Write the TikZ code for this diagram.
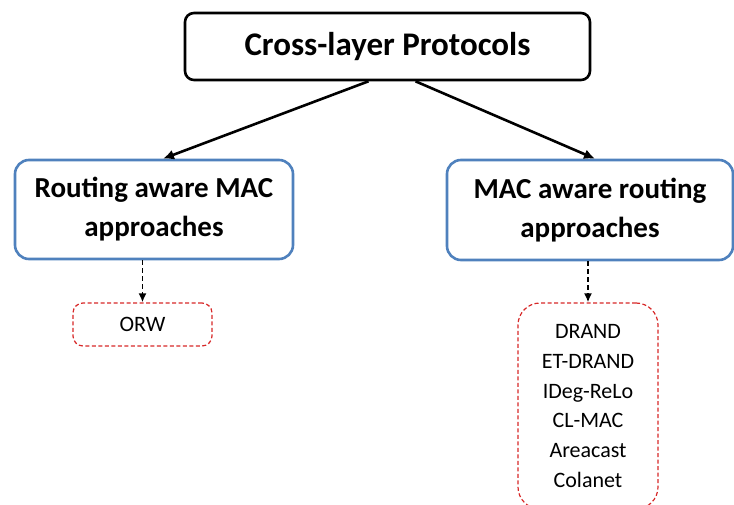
\documentclass[tikz,border=0pt]{standalone}
\usepackage{fontspec}
\setmainfont{Carlito}
\usetikzlibrary{arrows.meta,scopes}
\definecolor{boxblue}{RGB}{79,129,189}
\definecolor{boxred}{RGB}{215,40,40}
\begin{document}
\begin{tikzpicture}[x=1pt,y=-1pt,
    top/.style={rectangle,rounded corners=9pt,draw=black,line width=2.6pt,fill=white,
        font=\fontsize{33}{38}\selectfont\bfseries,minimum width=405pt,minimum height=67pt},
    kind/.style={rectangle,rounded corners=14pt,draw=boxblue,line width=2.6pt,fill=white,align=center,
        font=\fontsize{29}{39}\selectfont\bfseries,minimum width=278pt,minimum height=99pt},
    item/.style={rectangle,rounded corners=10pt,draw=boxred,dash pattern=on 4pt off 2.5pt,line width=1.2pt,align=center,
        font=\fontsize{22}{29.9}\selectfont,minimum width=139pt},
    link/.style={-{Latex[length=11pt,width=10pt]},line width=2.6pt},
    sub/.style={-{Latex[length=9pt,width=8pt]},line width=1.8pt,dash pattern=on 5pt off 3pt}
]
    \useasboundingbox (0,0) rectangle (734,505);
    \node[top] (cl) at (387.5,46.5) {Cross-layer Protocols};
    \node[kind] (rmac) at (154,209.5) {Routing aware MAC\\approaches};
    \node[kind,minimum width=286pt,minimum height=100pt] (mrout) at (590,210) {MAC aware routing\\approaches};
    \node[item,minimum height=43pt] (orw) at (142.5,324.5) {ORW};
    \node[item,minimum width=140pt,minimum height=206pt,rounded corners=22pt] (list) at (588,406)
        {DRAND\\ET-DRAND\\IDeg-ReLo\\CL-MAC\\Areacast\\Colanet};
    {[link]
        \draw ([xshift=-19pt]cl.south) -- ([xshift=9pt]rmac.north);
        \draw ([xshift=28pt]cl.south) -- ([xshift=5pt]mrout.north);
    }
    {[sub]
        \draw (rmac.south -| orw.north) -- (orw.north);
        \draw (mrout.south -| list.north) -- (list.north);
    }
\end{tikzpicture}
\end{document}
